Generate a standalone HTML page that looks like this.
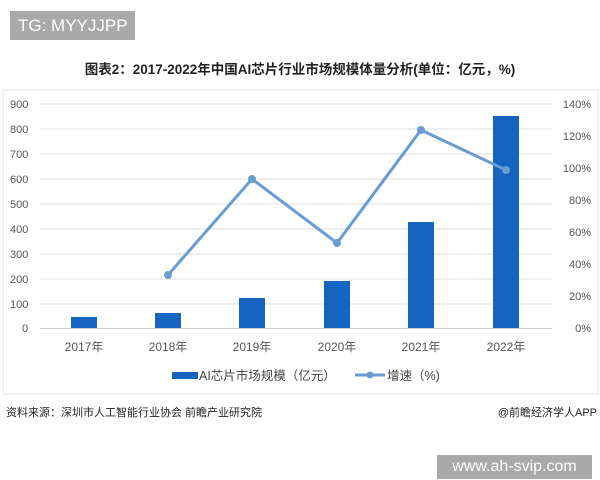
<!DOCTYPE html><html><head><meta charset="utf-8"><style>
body{margin:0;width:600px;height:480px;background:#fff;overflow:hidden;font-family:"Liberation Sans","Noto Sans CJK SC",sans-serif;position:relative}
.a{position:absolute}
</style></head><body>
<div class="a" style="left:10px;top:11px;width:125px;height:29px;background:#a9a9a9;color:#fff;font-size:17px;line-height:29px;text-indent:8px">TG: MYYJJPP</div>
<div class="a" style="left:0;width:600px;top:58px;text-align:center;font-size:13.5px;font-weight:bold;color:#222">图表2：2017-2022年中国AI芯片行业市场规模体量分析(单位：亿元，%)</div>
<svg class="a" style="left:0;top:0" width="600" height="480">
<rect x="3" y="90" width="595" height="304" fill="none" stroke="#e6e6e6"/>
<g stroke="#ddd" stroke-width="1">
<line x1="40" x2="552" y1="104" y2="104"/><line x1="40" x2="552" y1="129" y2="129"/><line x1="40" x2="552" y1="154" y2="154"/><line x1="40" x2="552" y1="179" y2="179"/><line x1="40" x2="552" y1="204" y2="204"/><line x1="40" x2="552" y1="229" y2="229"/><line x1="40" x2="552" y1="254" y2="254"/><line x1="40" x2="552" y1="279" y2="279"/><line x1="40" x2="552" y1="304" y2="304"/><line x1="40" x2="552" y1="328.5" y2="328.5" stroke="#ccc"/>
</g>
<g font-size="11" fill="#555" font-family="Liberation Sans,sans-serif">
<text x="10" y="108">900</text><text x="10" y="133">800</text><text x="10" y="158">700</text><text x="10" y="183">600</text><text x="10" y="208">500</text><text x="10" y="233">400</text><text x="10" y="258">300</text><text x="10" y="283">200</text><text x="10" y="308">100</text><text x="22" y="332">0</text>
<g text-anchor="end"><text x="591" y="108">140%</text><text x="591" y="140">120%</text><text x="591" y="172">100%</text><text x="591" y="204">80%</text><text x="591" y="236">60%</text><text x="591" y="268">40%</text><text x="591" y="300">20%</text><text x="591" y="332">0%</text></g>
</g>
<g fill="#1565c0">
<rect x="71" y="317" width="26" height="11"/><rect x="155" y="313" width="26" height="15"/><rect x="239" y="298" width="26" height="30"/><rect x="324" y="281" width="26" height="47"/><rect x="408" y="222" width="26" height="106"/><rect x="493" y="116" width="26" height="212"/>
</g>
<polyline points="168,275 252,179 337,243 421,130 506,170" fill="none" stroke="#6a9bd1" stroke-width="3"/>
<g fill="#6a9bd1"><circle cx="168" cy="275" r="4"/><circle cx="252" cy="179" r="4"/><circle cx="337" cy="243" r="4"/><circle cx="421" cy="130" r="4"/><circle cx="506" cy="170" r="4"/></g>
<g font-size="12" fill="#555" text-anchor="middle" font-family="Liberation Sans,Noto Sans CJK SC,sans-serif">
<text x="84" y="351">2017年</text><text x="168" y="351">2018年</text><text x="252" y="351">2019年</text><text x="337" y="351">2020年</text><text x="421" y="351">2021年</text><text x="506" y="351">2022年</text>
</g>
<rect x="172" y="372" width="26" height="7" fill="#1565c0"/>
<text x="199" y="380" font-size="12.5" fill="#444" font-family="Liberation Sans,Noto Sans CJK SC,sans-serif">AI芯片市场规模（亿元）</text>
<line x1="355" x2="385" y1="375" y2="375" stroke="#6a9bd1" stroke-width="3"/><circle cx="370" cy="375" r="3.5" fill="#6a9bd1"/>
<text x="387" y="380" font-size="12.5" fill="#444" font-family="Liberation Sans,Noto Sans CJK SC,sans-serif">增速（%)</text>
</svg>
<div class="a" style="left:6px;top:404px;font-size:11px;color:#222">资料来源：深圳市人工智能行业协会 前瞻产业研究院</div>
<div class="a" style="right:3px;top:404px;font-size:11px;color:#222">@前瞻经济学人APP</div>
<div class="a" style="left:437px;top:455px;width:155px;height:24px;background:#a9a9a9;color:#fff;font-size:16px;line-height:24px;text-align:center">www.ah-svip.com</div>
</body></html>
